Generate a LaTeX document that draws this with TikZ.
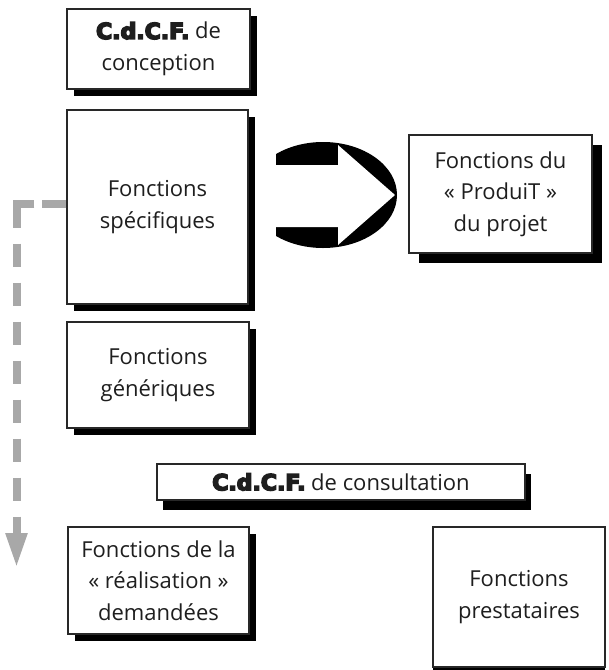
\documentclass[tikz,border=0pt]{standalone}
\usepackage{fontspec}
\setmainfont{Open Sans}
\newfontfamily\heavyfont[BoldFeatures={FakeBold=7}]{DejaVu Sans}
\newcommand\cdcfmark{{\heavyfont\bfseries C.d.C.F.}}
\usetikzlibrary{shadows,arrows.meta}

\definecolor{boxline}{RGB}{40,40,40}
\definecolor{boxtext}{RGB}{30,30,30}
\definecolor{linkgrey}{RGB}{168,168,168}

\tikzset{
  shade/.style 2 args={drop shadow={shadow xshift=#1, shadow yshift=#2, fill=black, opacity=1}},
  basebox/.style={draw=boxline, line width=1.1pt, fill=white, inner sep=0pt,
    align=center, text=boxtext, font=\fontsize{22}{31.5}\selectfont},
  panel/.style={basebox, shade={7pt}{-7pt}},
  feedback/.style={draw=linkgrey, line width=8pt,
    dash pattern=on 24pt off 8pt on 42pt off 16pt
      on 23.5pt off 15.5pt on 23.5pt off 15.5pt on 23.5pt off 15.5pt
      on 23.5pt off 15.5pt on 23.5pt off 15.5pt on 23.5pt off 15.5pt
      on 23.5pt off 15.5pt on 80pt off 1pt,
    -{Triangle[length=35pt,width=20pt]}},
}

\begin{document}
\begin{tikzpicture}[x=1pt,y=-1pt]
  \useasboundingbox (0,0) rectangle (609,670);
  \clip (0,0) rectangle (609,670);

  % specification boxes
  \node[panel, minimum width=183pt, minimum height=80pt] (conc) at (158.5,49)
    {\cdcfmark{} de\\conception};
  \node[panel, minimum width=181pt, minimum height=194pt] (spec) at (157.5,207)
    {Fonctions\\spécifiques};
  \node[panel, minimum width=182pt, minimum height=106pt] (gen) at (158,375)
    {Fonctions\\génériques};
  \node[basebox, shade={10pt}{-10pt}, minimum width=183pt, minimum height=118pt] (prod) at (500.5,194)
    {Fonctions du\\« ProduiT »\\du projet};
  \node[basebox, shade={6pt}{-10pt}, minimum width=368pt, minimum height=36pt] (consult) at (341,482)
    {\raisebox{-3pt}{\cdcfmark{} de consultation}};
  \node[panel, minimum width=181pt, minimum height=107pt] (real) at (158.5,580.5)
    {Fonctions de la\\« réalisation »\\demandées};
  \node[basebox, shade={0pt}{-7pt}, minimum width=172pt, minimum height=140pt] (prest) at (519,597)
    {Fonctions\\prestataires};

  % block arrow cut out of a black ellipse
  \begin{scope}
    \clip (276,130) rectangle (405,260);
    \fill (323,195) ellipse [x radius=74pt, y radius=53pt];
  \end{scope}
  \fill[white] (270,165) -- (338,165) -- (338,145) -- (395,195)
    -- (338,245) -- (338,227) -- (270,227) -- cycle;

  % dashed link down to the realisation level
  \coordinate (dropend) at (16.5,568);
  \draw[feedback] ([yshift=3.5pt]spec.west) -| (dropend);
\end{tikzpicture}
\end{document}
